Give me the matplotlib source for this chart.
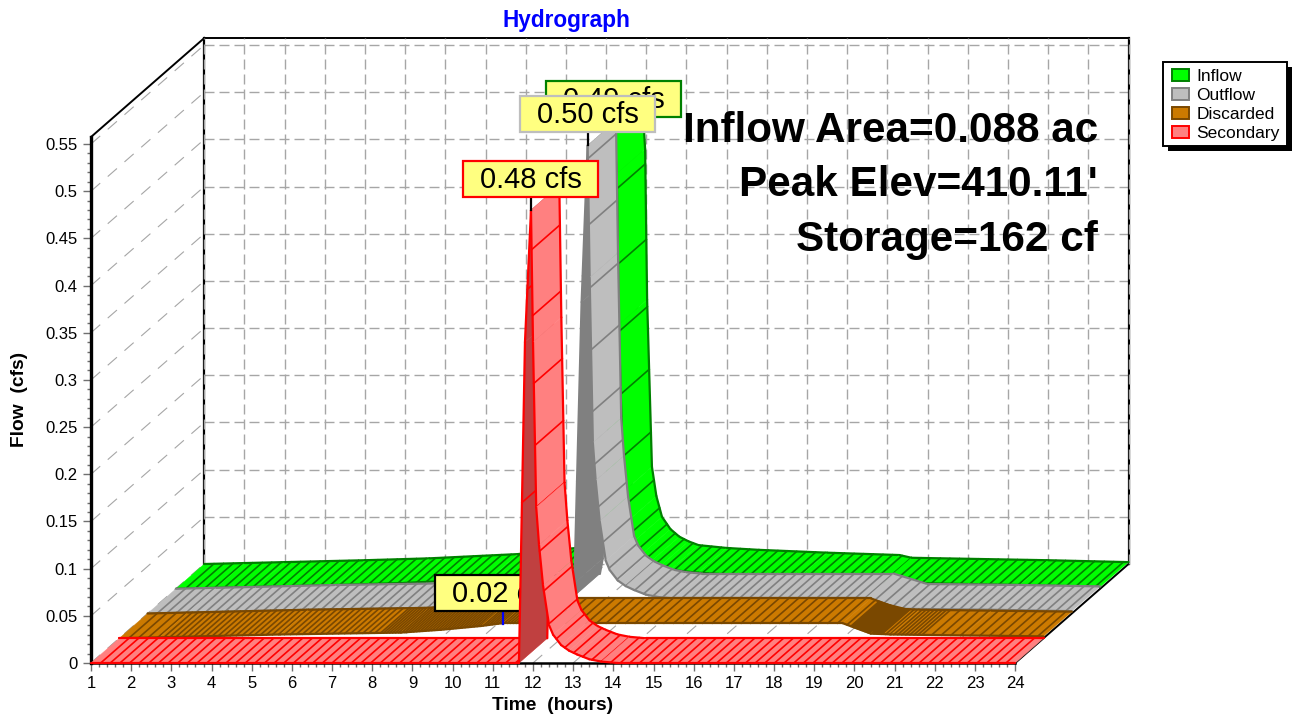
import numpy as np
import matplotlib
matplotlib.use('Agg')
import matplotlib.pyplot as plt
from matplotlib.patches import Patch, Rectangle
from matplotlib.transforms import IdentityTransform

plt.rcParams['font.family'] = ['Liberation Sans', 'DejaVu Sans']

# Values
inflow_hours = [1, 2, 3, 5, 6.6, 8.8, 10.25, 11.2, 11.55, 11.7, 11.9, 11.97, 12.02, 12.14, 12.25, 12.39, 12.6, 12.82, 13.05, 13.3, 14, 14.8, 16.5, 18.3, 18.6, 22, 24]
inflow_cfs = [0, 0.001, 0.002, 0.004, 0.006, 0.0105, 0.017, 0.024, 0.04, 0.12, 0.49, 0.44, 0.28, 0.103, 0.072, 0.05, 0.037, 0.029, 0.024, 0.02, 0.017, 0.015, 0.012, 0.0095, 0.0066, 0.004, 0.002]

outflow_hours = [1, 2, 3, 5, 8, 9, 10, 10.5, 11.55, 11.62, 11.8, 11.95, 12.0, 12.08, 12.15, 12.25, 12.4, 12.5, 12.7, 12.9, 13.1, 13.4, 13.7, 14.1, 18.87, 19.7, 22, 24]
outflow_cfs = [0, 0.001, 0.002, 0.004, 0.006, 0.009, 0.013, 0.015, 0.016, 0.032, 0.33, 0.496, 0.356, 0.181, 0.141, 0.098, 0.056, 0.046, 0.035, 0.029, 0.025, 0.02, 0.0175, 0.016, 0.016, 0.005, 0.004, 0.0025]

discarded_hours = [1, 2, 3, 5, 8, 9, 10, 10.54, 19.0, 19.7, 20.2, 22, 24]
discarded_cfs = [0, 0.001, 0.002, 0.004, 0.006, 0.009, 0.013, 0.016, 0.016, 0.005, 0.004, 0.003, 0.002]

secondary_hours = [1, 11.65, 11.8, 11.95, 12.0, 12.08, 12.15, 12.25, 12.4, 12.5, 12.7, 12.9, 13.1, 13.4, 13.7, 14.1, 24]
secondary_cfs = [0, 0, 0.34, 0.48, 0.34, 0.165, 0.125, 0.082, 0.04, 0.03, 0.019, 0.013, 0.009, 0.004, 0.0015, 0, 0]

series_names = ['Inflow', 'Outflow', 'Discarded', 'Secondary']
peak_labels = ['0.49 cfs', '0.50 cfs', '0.02 cfs', '0.48 cfs']
peak_hours = [11.9, 11.95, 10.54, 11.95]
peak_cfs = [0.486, 0.496, 0.015, 0.48]
depth_index = [3, 2, 1, 0]

fill_colors = ['#00ff00', '#bebebe', '#cc7a00', '#ff8080']
edge_colors = ['#008000', '#808080', '#7a4800', '#ff0000']
dark_colors = ['#00c000', '#808080', '#7a4800', '#c04040']
box_edges = ['#008000', '#bebebe', '#000000', '#ff0000']
leader_colors = ['#008000', '#000000', '#0000ff', '#000000']

# extra hatching on the discarded ribbon: from hour, to hour, spacing in pixels
discarded_dense = [(2.0, 7.5, 6), (7.5, 11.0, 3), (19.2, 20.0, 1.3), (20.0, 21.0, 4)]

info_lines = ['Inflow Area=0.088 ac', "Peak Elev=410.11'", 'Storage=162 cf']
y_ticks = [0, 0.05, 0.1, 0.15, 0.2, 0.25, 0.3, 0.35, 0.4, 0.45, 0.5, 0.55]
y_tick_labels = ['0', '0.05', '0.1', '0.15', '0.2', '0.25', '0.3', '0.35', '0.4', '0.45', '0.5', '0.55']
x_ticks = list(range(1, 25))

W, H = 1294, 719
DX = 2.82      # hours of sideways shift for the full depth
DY = 0.1049    # cfs of upward shift for the full depth
TOP = 0.5574


def proj(t, q, d):
    # oblique projection, d is 0 at the front and 1 at the back wall
    return np.asarray(t) + d * DX, np.asarray(q) + d * DY


def hatch_hours(hours, flows, dense=None):
    fine = np.arange(hours[0], hours[-1], 0.005)
    vals = np.interp(fine, hours, flows)
    out = []
    dist = 0
    for i in range(1, len(fine)):
        dq = vals[i] - vals[i - 1]
        # steep rise gets hardly any lines, the fall gets a few more
        weight = 0.02 if dq / 0.005 > 0.15 else 0.14
        dist += 0.005 * 40.2 + abs(dq) * 943 * weight
        step = 9.5
        for lo, hi, sp in dense or []:
            if lo <= fine[i] < hi:
                step = sp
        if dist >= step:
            out.append(fine[i])
            dist = 0
    return out


fig = plt.figure(figsize=(W / 100, H / 100), dpi=100)
ax = fig.add_axes([91 / W, (H - 663) / H, 1037.5 / W, 625 / H])
ax.set_xlim(1, 24 + DX)
ax.set_ylim(0, TOP + DY)
ax.patch.set_visible(False)

for s in ['top', 'right']:
    ax.spines[s].set_visible(False)
ax.spines['left'].set_bounds(0, TOP)
ax.spines['left'].set_linewidth(2.4)
ax.spines['bottom'].set_bounds(1, 24)
ax.spines['bottom'].set_linewidth(1.8)
ax.xaxis.set_zorder(0.5)
ax.yaxis.set_zorder(0.5)

ax.set_xticks(x_ticks)
ax.set_xticks(np.arange(1, 24.01, 0.2), minor=True)
ax.set_yticks(y_ticks)
ax.set_yticklabels(y_tick_labels)
ax.set_yticks(np.arange(0, 0.5501, 0.01), minor=True)
ax.tick_params(which='major', length=6, width=1.0, color='#707070', labelsize=12, pad=3.5)
ax.tick_params(which='minor', length=3, width=1.0, color='#707070')

# walls and floor
GRID = '#a6a6a6'
DASH = (0, (7.2, 3.6))
for y in y_ticks:
    ax.plot(*proj([1, 24], [y, y], 1), color=GRID, lw=1.0, ls=DASH, zorder=1, clip_on=False)
    xs, ys = proj([1, 1], [y, y], np.array([0, 1]))
    ax.plot(xs, ys, color=GRID, lw=0.8, ls=(0, (11, 9)), zorder=1, clip_on=False)
for h in x_ticks:
    ax.plot(*proj([h, h], [0, TOP], 1), color=GRID, lw=1.0, ls=DASH, zorder=1.2, clip_on=False)
    xs, ys = proj([h, h], [0, 0], np.array([0, 1]))
    ax.plot(xs, ys, color=GRID, lw=0.8, ls=(0, (11, 9)), zorder=1, clip_on=False)

# frame edges
ax.plot(*proj([1, 1], [0, TOP], 1), color='black', lw=1.6, zorder=1.1, clip_on=False)
ax.plot(*proj([24, 24], [0, TOP], 1), color='black', lw=1.6, zorder=1.1, clip_on=False)
ax.plot(*proj([1, 24], [TOP, TOP], 1), color='black', lw=1.4, zorder=1.1, clip_on=False)
xs, ys = proj([1, 1], [TOP, TOP], np.array([0, 1]))
ax.plot(xs, ys, color='black', lw=1.4, zorder=1.1, clip_on=False)
xs, ys = proj([24, 24], [0, 0], np.array([0, 1]))
ax.plot(xs, ys, color='black', lw=1.4, zorder=1.1, clip_on=False)

all_hours = [inflow_hours, outflow_hours, discarded_hours, secondary_hours]
all_cfs = [inflow_cfs, outflow_cfs, discarded_cfs, secondary_cfs]

for i in range(4):
    hours, flows = all_hours[i], all_cfs[i]
    d0 = depth_index[i] / 4
    d1 = d0 + 0.25
    z = 10 + i * 10

    # one quad per step in time order, so the fall covers the back of the rise
    for k in range(len(hours) - 1):
        t = [hours[k], hours[k + 1], hours[k + 1], hours[k]]
        q = [flows[k], flows[k + 1], flows[k + 1], flows[k]]
        xs, ys = proj(t, q, np.array([d0, d0, d1, d1]))
        slope = (flows[k + 1] - flows[k]) / (hours[k + 1] - hours[k])
        c = dark_colors[i] if slope > 0.15 else fill_colors[i]
        zk = z + k * 0.1
        ax.fill(xs, ys, color=c, lw=0.3, zorder=zk, clip_on=False)
        for dd in [d0, d1]:
            ax.plot(*proj(hours[k:k + 2], flows[k:k + 2], dd), color=edge_colors[i], lw=1.6,
                    solid_capstyle='round', zorder=zk + 0.05, clip_on=False)

    # dark hump on the falling part of the discarded ribbon
    if i == 2:
        t = np.array([19.2, 20.0, 20.0, 19.2])
        q = np.interp(t, hours, flows)
        xs, ys = proj(t, q, np.array([d0, d0, d1, d1]))
        ax.fill(xs, ys, color=dark_colors[i], lw=0, zorder=z + 5.5, clip_on=False)

    dense = discarded_dense if i == 2 else None
    for h in hatch_hours(hours, flows, dense):
        v = np.interp(h, hours, flows)
        k = np.searchsorted(hours, h) - 1
        xs, ys = proj([h, h], [v, v], np.array([d0, d1]))
        ax.plot(xs, ys, color=edge_colors[i], lw=1.2, zorder=z + k * 0.1 + 0.02, clip_on=False)

    # peak label with its leader, placed in pixels above the peak
    px, py = ax.transData.transform(np.column_stack(proj(peak_hours[i], peak_cfs[i], d0)))[0]
    cy = py + 31.5
    ax.plot([px, px], [py, cy], color=leader_colors[i], lw=1.6, zorder=z + 6,
            transform=IdentityTransform(), clip_on=False)
    ax.add_patch(Rectangle((px - 67.5, cy - 18), 135, 36, facecolor='#ffff80', edgecolor=box_edges[i],
                           lw=1.6, zorder=z + 7, transform=IdentityTransform(), clip_on=False))
    ax.text(px, cy - 1, peak_labels[i], fontsize=21, ha='center', va='center', color='black',
            zorder=z + 8, transform=IdentityTransform(), clip_on=False)

for line, yp in zip(info_lines, [131, 185, 240]):
    fig.text(1098 / W, 1 - yp / H, line, fontsize=30.4, fontweight='bold', ha='right', va='center',
             color='black', zorder=100)

fig.text(566 / W, 1 - 20 / H, 'Hydrograph', fontsize=16.3, fontweight='bold', color='#0000ff', ha='center', va='center')
fig.text(553 / W, 1 - 706 / H, 'Time  (hours)', fontsize=13.8, fontweight='bold', ha='center', va='center')
fig.text(20 / W, 1 - 399 / H, 'Flow  (cfs)', fontsize=13.8, fontweight='bold', rotation=90, ha='center', va='center')

# legend frame with its hard shadow, the entries go on top without a frame
fig.add_artist(Rectangle((1168, H - 151), 124, 84, facecolor='black', edgecolor='black', lw=0,
                         transform=IdentityTransform()))
fig.add_artist(Rectangle((1163, H - 146), 124, 84, facecolor='white', edgecolor='black', lw=1.4,
                         transform=IdentityTransform()))
handles = [Patch(facecolor=fill_colors[i], edgecolor=edge_colors[i], lw=1.4) for i in range(4)]
fig.legend(handles, series_names, loc='upper left', bbox_to_anchor=(1172 / W, 1 - 69 / H),
           fontsize=12.5, frameon=False, borderaxespad=0, borderpad=0,
           handlelength=1.0, handleheight=0.7, handletextpad=0.4, labelspacing=0.22)

fig.savefig('out.png', dpi=100)
